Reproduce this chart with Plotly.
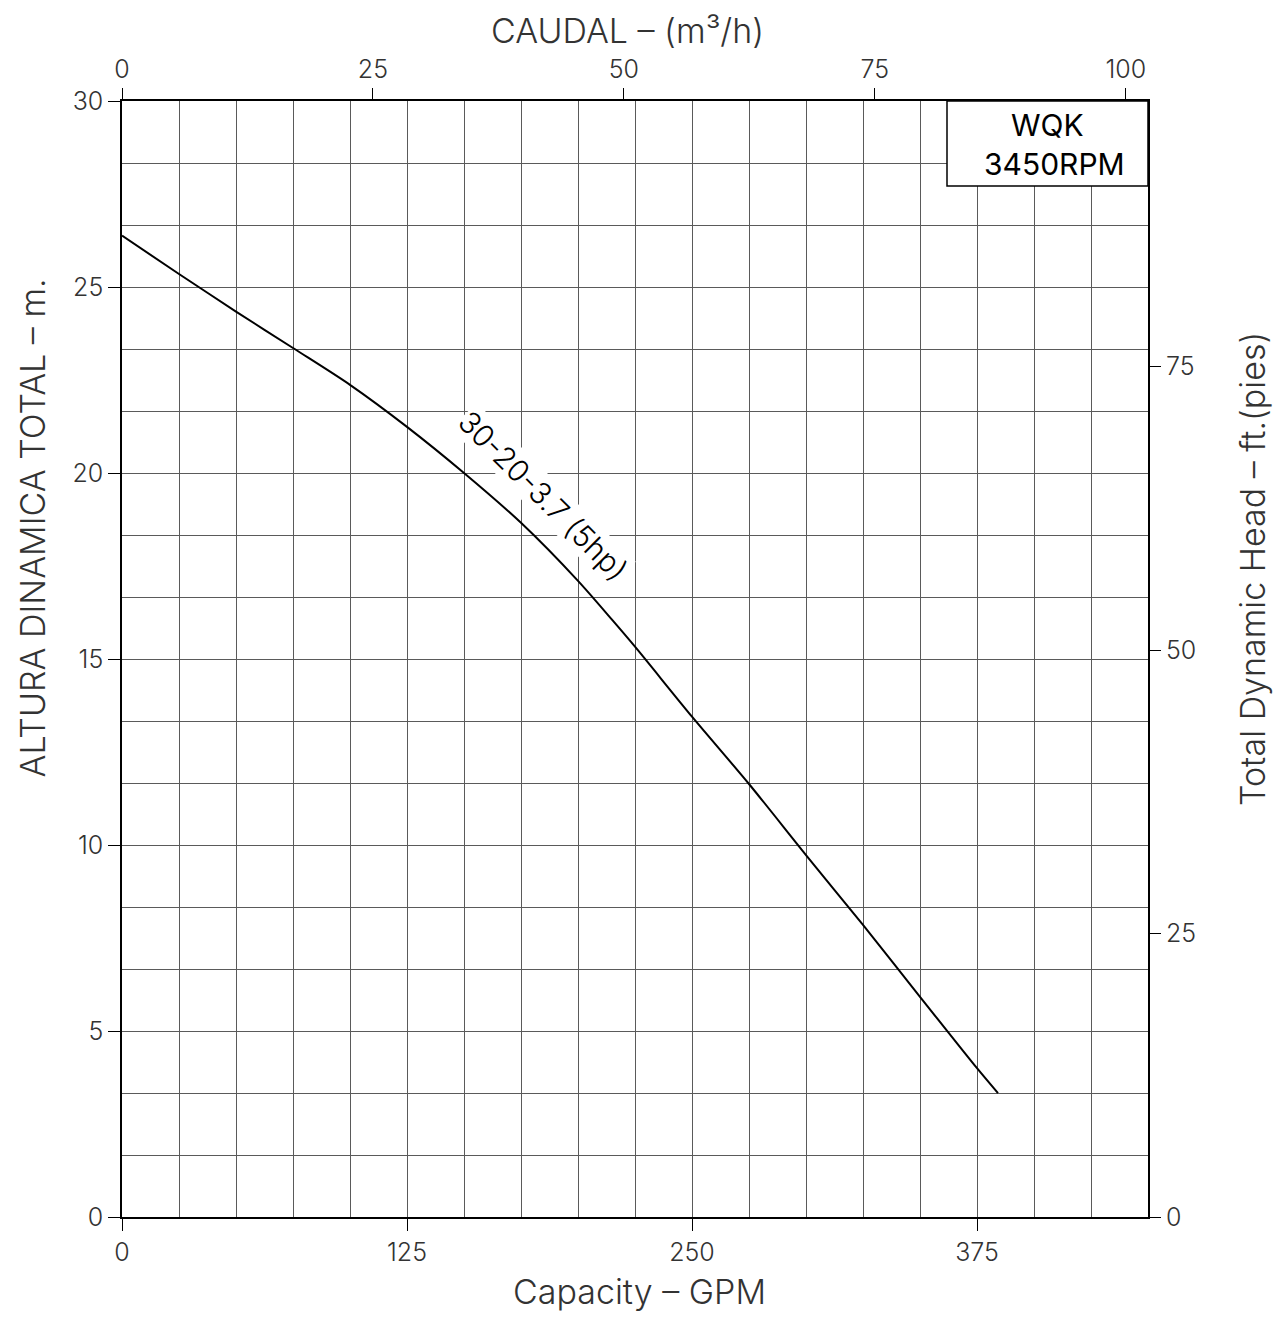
import plotly.graph_objects as go

# ---- data ----
gpm = [0, 25, 50, 75, 100, 125, 150, 175, 200, 215, 225, 250, 275, 300, 325, 350, 375, 384.2]
head_m = [26.38, 25.35, 24.34, 23.36, 22.37, 21.24, 20.0, 18.66, 17.1, 16.05, 15.33,
          13.45, 11.64, 9.73, 7.85, 5.92, 4.0, 3.33]
curve_label = "30-20-3.7 (5hp)"
gpm_ticks = [0, 125, 250, 375]
m3h_ticks = [0, 25, 50, 75, 100]
m_ticks = [0, 5, 10, 15, 20, 25, 30]
ft_ticks = [0, 25, 50, 75]

GPM_PER_M3H = 4.40287
FT_PER_M = 3.28084
X_MAX = 450
Y_MAX = 30

FONT = "Inter, DejaVu Sans"
GRID = "#5a5a5a"
TXT = "#333333"

# page body has an 8px margin; plot area should sit at x 122..1148, y 101..1217 on the page
OFF = 8
PL, PR, PT, PB = 122, 1148, 101, 1217
W, H = 1281 - 2 * OFF, 1322 - 2 * OFF

fig = go.Figure()
fig.add_trace(go.Scatter(x=gpm, y=head_m, mode="lines",
                         line=dict(color="black", width=2, shape="spline", smoothing=0.8),
                         hoverinfo="skip", showlegend=False))
# same curve on secondary scales (invisible) so the top/right axes are drawn
fig.add_trace(go.Scatter(x=[g / GPM_PER_M3H for g in gpm], y=[h * FT_PER_M for h in head_m],
                         xaxis="x2", yaxis="y2", mode="lines", line=dict(width=0),
                         opacity=0, hoverinfo="skip", showlegend=False))

tickfont = dict(family=FONT, size=25, color=TXT, weight=300)

fig.update_layout(
    width=W, height=H,
    margin=dict(l=PL - OFF, r=(W + OFF) - PR, t=PT - OFF, b=(H + OFF) - PB),
    paper_bgcolor="white", plot_bgcolor="white",
    showlegend=False,
    xaxis=dict(range=[0, X_MAX], tickmode="array", tickvals=gpm_ticks,
               ticks="outside", ticklen=12, tickcolor="black", tickwidth=1,
               tickfont=tickfont, showgrid=True, gridcolor=GRID, gridwidth=1,
               showline=True, linecolor="black", linewidth=1.5, mirror=True,
               zeroline=False, fixedrange=True,
               minor=dict(tickmode="linear", tick0=0, dtick=25, showgrid=True,
                          gridcolor=GRID, gridwidth=1, ticklen=0)),
    yaxis=dict(range=[0, Y_MAX], tickmode="array", tickvals=m_ticks,
               ticks="outside", ticklen=12, tickcolor="black", tickwidth=1,
               tickfont=tickfont, showgrid=True, gridcolor=GRID, gridwidth=1,
               showline=True, linecolor="black", linewidth=1.5, mirror=True,
               zeroline=False, fixedrange=True,
               minor=dict(tickmode="linear", tick0=0, dtick=5 / 3, showgrid=True,
                          gridcolor=GRID, gridwidth=1, ticklen=0)),
    xaxis2=dict(overlaying="x", side="top", anchor="y",
                range=[0, X_MAX / GPM_PER_M3H], tickmode="array", tickvals=m3h_ticks,
                ticks="outside", ticklen=12, tickcolor="black", tickwidth=1,
                tickfont=tickfont, showgrid=False, zeroline=False, showline=False,
                fixedrange=True),
    yaxis2=dict(overlaying="y", side="right", anchor="x",
                range=[0, Y_MAX * FT_PER_M], tickmode="array", tickvals=ft_ticks,
                ticks="outside", ticklen=12, tickcolor="black", tickwidth=1,
                tickfont=tickfont, showgrid=False, zeroline=False, showline=False,
                fixedrange=True),
)

def px(xp):
    return (xp - PL) / (PR - PL)

def py(yp):
    return (PB - yp) / (PB - PT)

titlefont = dict(family=FONT, size=34, color=TXT, weight=300)
# titles anchored so nothing is clipped at the figure edges
fig.add_annotation(xref="paper", yref="paper", x=px(627), y=1.0, yshift=PT - OFF,
                   xanchor="center", yanchor="top", showarrow=False,
                   text="CAUDAL – (m³/h)", font=titlefont)
fig.add_annotation(xref="paper", yref="paper", x=px(639), y=0.0, yshift=-((H + OFF) - PB),
                   xanchor="center", yanchor="bottom", showarrow=False,
                   text="Capacity – GPM", font=titlefont)
fig.add_annotation(xref="paper", yref="paper", x=px(OFF + 1), y=py(528), textangle=-90,
                   xanchor="left", yanchor="middle", showarrow=False,
                   text="ALTURA DINAMICA TOTAL – m.", font=titlefont)
fig.add_annotation(xref="paper", yref="paper", x=px(1252), y=py(569), textangle=-90,
                   xanchor="center", yanchor="middle", showarrow=False,
                   text="Total Dynamic Head – ft.(pies)", font=titlefont)

# model box
fig.add_shape(type="rect", xref="paper", yref="paper",
              x0=px(947), x1=px(1148), y0=py(186), y1=py(101),
              line=dict(color="black", width=1.5), fillcolor="white", layer="above")
boxfont = dict(family=FONT, size=30, color="black", weight=400)
fig.add_annotation(xref="paper", yref="paper", x=px(1047), y=py(125), text="WQK",
                   showarrow=False, xanchor="center", yanchor="middle", font=boxfont)
fig.add_annotation(xref="paper", yref="paper", x=px(1054), y=py(164), text="3450RPM",
                   showarrow=False, xanchor="center", yanchor="middle", font=boxfont)

# curve label
fig.add_annotation(x=184.5, y=19.4, xref="x", yref="y", text=curve_label,
                   showarrow=False, textangle=45, bgcolor="white", borderpad=0,
                   font=dict(family=FONT, size=30, color="black", weight=300))

fig.write_html("out.html")
